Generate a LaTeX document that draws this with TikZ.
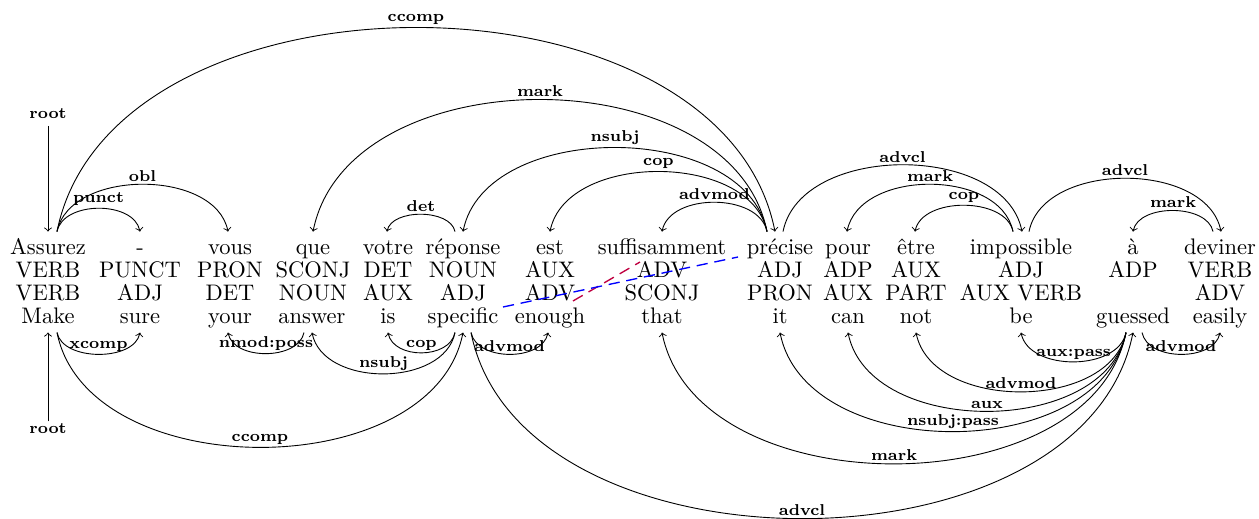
\documentclass[tikz,border=0pt]{standalone}
\usetikzlibrary{calc}
\newcommand\depup[7]{\draw[dep] ($(#1.north)+(#2,0)$) .. controls +({0.2*#5*#7},-#5) and +({-0.2*#5*#7},-#5) .. ($(#3.north)+(#4,0)$) node[lab,pos=0.5] {#6};}
\newcommand\depdown[7]{\draw[dep] ($(#1.south)+(#2,0)$) .. controls +({0.2*#5*#7},#5) and +({-0.2*#5*#7},#5) .. ($(#3.south)+(#4,0)$) node[lab,pos=0.5] {#6};}
\begin{document}
\begin{tikzpicture}[x=0.44444pt,y=-0.44444pt,
 frw/.style={anchor=base,text height=6.9pt,text depth=1.95pt,inner xsep=0pt,inner ysep=3.3pt},
 enw/.style={anchor=base,text height=6.9pt,text depth=1.95pt,inner xsep=0pt,inner ysep=1.95pt},
 tag/.style={anchor=base,inner sep=0pt},
 dep/.style={->,line width=0.4pt},
 lab/.style={font=\scriptsize\bfseries,anchor=south,inner sep=1pt},
 rootlab/.style={font=\scriptsize\bfseries,anchor=base,inner sep=1pt},
 alignline/.style={semithick,dash pattern=on 5pt off 3pt},
]
\useasboundingbox (0,0) rectangle (1259,519);

% French words (row 1)
\node[frw] (f1)  at (48,255)   {Assurez};
\node[frw] (f2)  at (140,255)  {-};
\node[frw] (f3)  at (230,255)  {vous};
\node[frw] (f4)  at (313,255)  {que};
\node[frw] (f5)  at (388,255)  {votre};
\node[frw] (f6)  at (463,255)  {réponse};
\node[frw] (f7)  at (550,255)  {est};
\node[frw] (f8)  at (662,255)  {suffisamment};
\node[frw] (f9)  at (780,255)  {précise};
\node[frw] (f10) at (848,255)  {pour};
\node[frw] (f11) at (916,255)  {être};
\node[frw] (f12) at (1021,255) {impossible};
\node[frw] (f13) at (1133,255) {à};
\node[frw] (f14) at (1220,255) {deviner};

% French tags (row 2)
\node[tag] (p1)  at (48,278)   {VERB};
\node[tag] (p2)  at (140,278)  {PUNCT};
\node[tag] (p3)  at (230,278)  {PRON};
\node[tag] (p4)  at (313,278)  {SCONJ};
\node[tag] (p5)  at (388,278)  {DET};
\node[tag] (p6)  at (463,278)  {NOUN};
\node[tag] (p7)  at (550,278)  {AUX};
\node[tag] (p8)  at (662,278)  {ADV};
\node[tag] (p9)  at (780,278)  {ADJ};
\node[tag] (p10) at (848,278)  {ADP};
\node[tag] (p11) at (916,278)  {AUX};
\node[tag] (p12) at (1021,278) {ADJ};
\node[tag] (p13) at (1133,278) {ADP};
\node[tag] (p14) at (1220,278) {VERB};

% English tags (row 3)
\node[tag] (q1)  at (48,300.5)   {VERB};
\node[tag] (q2)  at (140,300.5)  {ADJ};
\node[tag] (q3)  at (230,300.5)  {DET};
\node[tag] (q4)  at (313,300.5)  {NOUN};
\node[tag] (q5)  at (388,300.5)  {AUX};
\node[tag] (q6)  at (463,300.5)  {ADJ};
\node[tag] (q7)  at (550,300.5)  {ADV};
\node[tag] (q8)  at (662,300.5)  {SCONJ};
\node[tag] (q9)  at (780,300.5)  {PRON};
\node[tag] (q10) at (848,300.5)  {AUX};
\node[tag] (q11) at (916,300.5)  {PART};
\node[tag] (q12) at (1021,300.5) {AUX VERB};
\node[tag] (q14) at (1220,300.5) {ADV};

% English words (row 4)
\node[enw] (e1)  at (48,323.3)   {Make};
\node[enw] (e2)  at (140,323.3)  {sure};
\node[enw] (e3)  at (230,323.3)  {your};
\node[enw] (e4)  at (312,323.3)  {answer};
\node[enw] (e5)  at (388,323.3)  {is};
\node[enw] (e6)  at (463,323.3)  {specific};
\node[enw] (e7)  at (550,323.3)  {enough};
\node[enw] (e8)  at (662,323.3)  {that};
\node[enw] (e9)  at (780,323.3)  {it};
\node[enw] (e10) at (848,323.3)  {can};
\node[enw] (e11) at (916,323.3)  {not};
\node[enw] (e12) at (1021,323.3) {be};
\node[enw] (e13) at (1133,323.3) {guessed};
\node[enw] (e14) at (1220,323.3) {easily};

% roots
\node[rootlab] (r1) at (48,119) {root};
\draw[dep] ($(r1.south)+(0,4)$) -- (f1.north);
\node[rootlab] (r2) at (48,434) {root};
\draw[dep] (r2.north) -- (e1.south);

% French dependencies (above)
\depup{f1}{9}{f9}{-5}{272}{ccomp}{1}
\depup{f9}{-13}{f4}{0}{176}{mark}{-1}
\depup{f9}{-13}{f6}{0}{112}{nsubj}{-1}
\depup{f9}{-13}{f7}{0}{80}{cop}{-1}
\depup{f9}{-13}{f8}{0}{39}{advmod}{-1}
\depup{f1}{9}{f3}{-2}{63}{obl}{1}
\depup{f1}{9}{f2}{0}{31}{punct}{1}
\depup{f6}{-8}{f5}{-1}{23}{det}{-1}
\depup{f9}{3}{f12}{1}{89}{advcl}{1}
\depup{f12}{-8}{f10}{-1}{63}{mark}{-1}
\depup{f12}{-8}{f11}{-1}{35}{cop}{-1}
\depup{f12}{8}{f14}{1}{71}{advcl}{1}
\depup{f14}{-7}{f13}{0}{28}{mark}{-1}

% English dependencies (below)
\depdown{e1}{9}{e2}{0}{29}{xcomp}{1}
\depdown{e1}{9}{e6}{0}{153}{ccomp}{1}
\depdown{e4}{-8}{e3}{-2}{28}{nmod:poss}{-1}
\depdown{e6}{-8}{e4}{0}{55}{nsubj}{-1}
\depdown{e6}{-8}{e5}{0}{27}{cop}{-1}
\depdown{e6}{8}{e7}{-2}{29}{advmod}{1}
\depdown{e6}{8}{e13}{0}{248}{advcl}{1}
\depdown{e13}{-7}{e12}{0}{39}{aux:pass}{-1}
\depdown{e13}{-7}{e11}{0}{79}{advmod}{-1}
\depdown{e13}{-7}{e10}{0}{105}{aux}{-1}
\depdown{e13}{-7}{e9}{0}{132}{nsubj:pass}{-1}
\depdown{e13}{-7}{e8}{0}{175}{mark}{-1}
\depdown{e13}{9}{e14}{0}{29}{advmod}{1}

% alignment lines
\coordinate (bs) at (503,307);
\coordinate (bt) at (738,257);
\coordinate (rs) at (573,301);
\coordinate (rt) at (640,262);
\draw[alignline,purple] (rs) -- (rt);
\draw[alignline,blue] (bs) -- (bt);
\end{tikzpicture}
\end{document}
